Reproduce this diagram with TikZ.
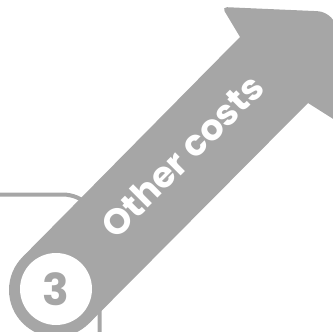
\documentclass[tikz,border=0pt]{standalone}
\usepackage{fontspec}
\setmainfont{Poppins}
\usepackage{tikz}
\usetikzlibrary{calc}
\definecolor{arrowgrey}{RGB}{166,166,166}

\begin{document}
\begin{tikzpicture}[
  x=1pt, y=-1pt,
  frame/.style    = {draw=arrowgrey, line width=4pt, rounded corners=37pt},
  body/.style     = {fill=arrowgrey, draw=none},
  numdisc/.style  = {circle, fill=white, draw=none, minimum size=72pt, inner sep=0pt,
                     font=\fontsize{44}{44}\selectfont\bfseries, text=arrowgrey},
  caption/.style  = {font=\fontsize{36}{36}\selectfont\bfseries, text=white, inner sep=0pt},
]
\useasboundingbox (0,0) rectangle (333,332);
\clip (0,0) rectangle (333,332);
% Frame behind the arrow
\coordinate (fstart) at (-10,194.5);
\coordinate (fcorner) at (99.5,194.5);
\coordinate (fend) at (99.5,345);
\draw[frame] (fstart) -- (fcorner) -- (fend);
% Arrow body
\coordinate (c) at (56,290);
\fill[body] (c) circle (47);
\fill[body] ($(c)+(-33.2,-33.2)$) -- (240,37)
  [rounded corners=5pt] -- (222,7)
  [rounded corners=20pt] -- (337,12)
  [rounded corners=5pt] -- (338,122)
  [sharp corners] -- (308,103) -- ($(c)+(33.2,33.2)$) -- cycle;
% Number disc
\node[numdisc] (num) at (56,289) {3};
% Label along the shaft
\node[caption, rotate=45] (lbl) at (182,156) {Other costs};
\end{tikzpicture}
\end{document}
